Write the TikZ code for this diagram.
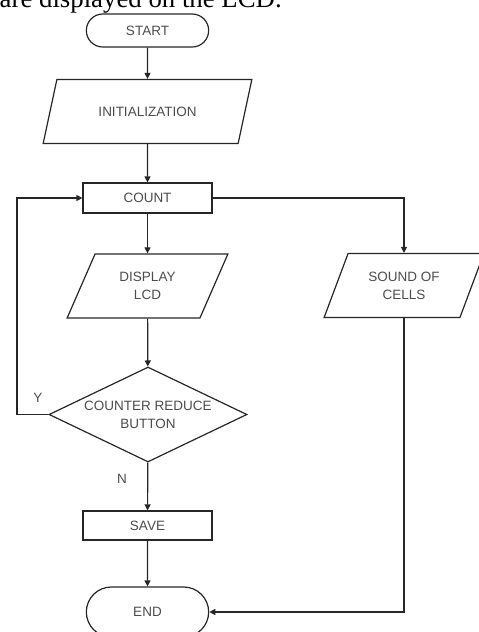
\documentclass[tikz,border=0pt]{standalone}
\usepackage{fontspec}
\setmainfont{Liberation Sans}
\newfontfamily\timesfont{Liberation Serif}
\usetikzlibrary{arrows.meta, shapes.geometric, shapes.misc}

\begin{document}
\begin{tikzpicture}[x=1pt, y=-1pt, >={Triangle[length=6pt, width=6pt]},
    every node/.style={font=\fontsize{13.5}{18}\selectfont, text=black!70},
    shape line/.style={draw=black!85, line width=1.2pt},
    terminal/.style={shape line, rounded rectangle, minimum width=129pt, minimum height=#1},
    process/.style={shape line, rectangle, minimum width=129pt, minimum height=#1},
    io/.style={shape line, trapezium, trapezium left angle=64, trapezium right angle=116,
        trapezium stretches, align=center, minimum width=#1, minimum height=64pt},
    arr/.style={->, draw=black!85, line width=1.2pt}]

    \useasboundingbox (0, 0) rectangle (479, 632);
    \clip (0, 0) rectangle (479, 632);

    % line of the page above the chart
    \node[anchor=base west, inner sep=0, text=black, font=\timesfont\fontsize{26.8}{30}\selectfont]
        (caption) at (-0.5, 7.3) {are displayed on the LCD.};

    % main column
    \node[terminal=33pt] (start) at (147.5, 30.5) {START};
    \node[io=209pt] (init) at (147.5, 111.5) {INITIALIZATION};
    \node[process=30pt] (count) at (147.5, 198) {COUNT};
    \node[io=161pt] (disp) at (147.5, 286) {DISPLAY\\LCD};
    \node[shape line, diamond, minimum width=198pt, minimum height=95pt, inner sep=0,
        label={[align=center]center:COUNTER REDUCE\\BUTTON}] (dec) at (148, 414.5) {};
    \node[process=29pt] (save) at (147.5, 525.5) {SAVE};
    \node[terminal=50pt] (end) at (147.5, 612) {END};

    % right branch
    \node[io=160pt] (sound) at (404, 285.5) {SOUND OF\\CELLS};

    \coordinate (loopx) at (17, 0);

    \draw[arr] (start) -- (init);
    \draw[arr] (init) -- (count);
    \draw[arr] (count) -- (disp);
    \draw[arr] (disp) -- (dec);
    \draw[arr] (dec) -- (save);
    \draw[arr] (save) -- (end);
    \draw[arr] (dec.west) -- (dec.west -| loopx) |- (count.west);
    \draw[arr] (count.east) -| (sound.north);
    \draw[arr] (sound.south) |- (end.east);

    \node (yes) at (38, 398) {Y};
    \node (no) at (122, 479) {N};

\end{tikzpicture}
\end{document}
